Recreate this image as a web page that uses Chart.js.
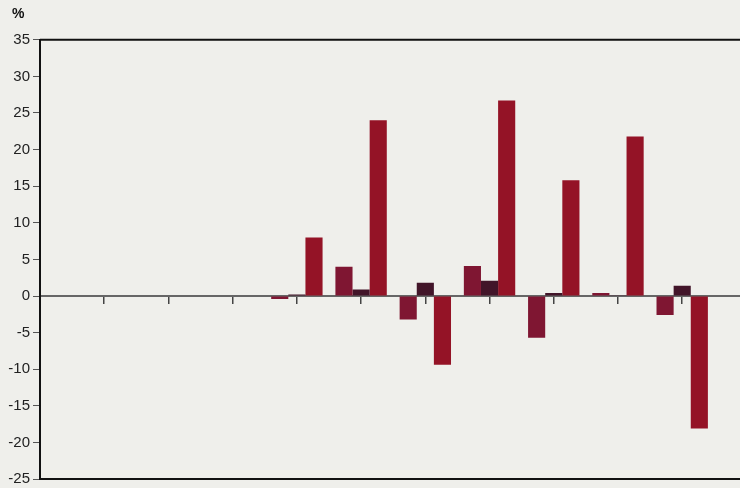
<!DOCTYPE html>
<html>
<head>
<meta charset="utf-8">
<script src="https://cdn.jsdelivr.net/npm/chart.js@4.4.1/dist/chart.umd.min.js"></script>
<style>
  html, body { margin: 0; padding: 0; background: #efefeb; }
  #wrap { width: 740px; height: 488px; }
</style>
</head>
<body>
<div id="wrap"><canvas id="grafico"></canvas></div>
<script>
// posições das categorias no eixo x (as 4 primeiras ficam vazias)
const categories = [0, 1, 2, 3, 4, 5, 6, 7, 8, 9, 10];
const serie1 = [null, null, null, null, -0.4, 4.0, -3.2, 4.1, -5.7, 0.4, -2.6];
const serie2 = [null, null, null, null, 0.2, 0.9, 1.8, 2.1, 0.4, 0.1, 1.4];
const serie3 = [null, null, null, null, 8.0, 24.0, -9.4, 26.7, 15.8, 21.8, -18.1];
const yTicks = [-25, -20, -15, -10, -5, 0, 5, 10, 15, 20, 25, 30, 35];
const unidade = '%';

const toPoints = (vals) => categories.map((c, i) => ({ x: c, y: vals[i] }));

const font = 'Liberation Sans, Arial, sans-serif';

// moldura superior e inferior + símbolo da unidade
const frame = {
    id: 'frame',
    afterDraw(chart) {
        const { ctx, chartArea: a } = chart;
        ctx.save();
        ctx.strokeStyle = '#111';
        ctx.lineWidth = 2;
        ctx.beginPath();
        ctx.moveTo(a.left, a.top); ctx.lineTo(a.right, a.top);
        ctx.moveTo(a.left, a.bottom); ctx.lineTo(a.right, a.bottom);
        ctx.stroke();
        ctx.fillStyle = '#111';
        ctx.font = 'bold 14px ' + font;
        ctx.textBaseline = 'middle';
        ctx.textAlign = 'left';
        ctx.fillText(unidade, 12, 14);
        ctx.restore();
    }
};

new Chart(document.getElementById('grafico'), {
    type: 'bar',
    data: {
        datasets: [
            { data: toPoints(serie1), backgroundColor: '#7f1632' },
            { data: toPoints(serie2), backgroundColor: '#421529' },
            { data: toPoints(serie3), backgroundColor: '#941326' }
        ]
    },
    options: {
        responsive: true,
        maintainAspectRatio: false,
        animation: false,
        categoryPercentage: 0.8,
        barPercentage: 1,
        layout: { padding: 0 },
        plugins: {
            legend: { display: false },
            tooltip: { enabled: false },
            title: {
                display: true,
                text: '',
                font: { family: font, size: 14, weight: 'bold' },
                padding: { top: 5, bottom: 18 }
            }
        },
        scales: {
            x: {
                type: 'linear',
                position: { y: 0 },
                offset: false,
                min: 0,
                max: 10.9,
                afterBuildTicks: (s) => { s.ticks = categories.map(v => ({ value: v })); },
                ticks: { display: false, stepSize: 1 },
                grid: { offset: false, drawOnChartArea: false, drawTicks: true, tickLength: 7, color: '#444', lineWidth: 1.5 },
                border: { display: true, color: '#666', width: 2, dash: [2, 1] }
            },
            y: {
                min: -25,
                max: 35,
                afterBuildTicks: (s) => { s.ticks = yTicks.map(v => ({ value: v })); },
                afterFit: (s) => { s.width = 40; s.paddingBottom = 9; },
                ticks: { color: '#222', padding: 3, font: { family: font, size: 15 } },
                grid: { drawOnChartArea: false, tickLength: 7, color: '#555', lineWidth: 1 },
                border: { display: true, color: '#111', width: 2 }
            }
        }
    },
    plugins: [frame]
});
</script>
</body>
</html>
